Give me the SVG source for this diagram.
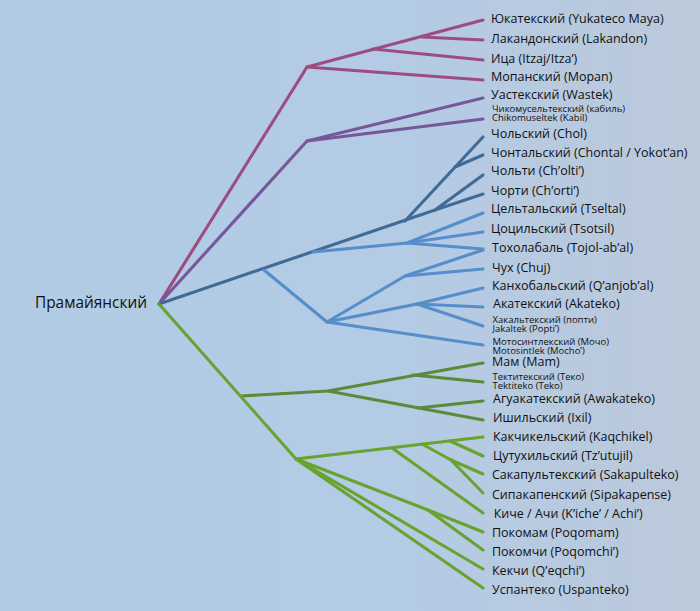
<svg xmlns="http://www.w3.org/2000/svg" width="700" height="611" viewBox="0 0 700 611">
<defs>
<linearGradient id="bg" x1="0" y1="0" x2="1" y2="0">
<stop offset="0" stop-color="#b1cbe6"/>
<stop offset="0.6" stop-color="#b4cbe4"/>
<stop offset="1" stop-color="#bcc9db"/>
</linearGradient>
<style>
.e{fill:none;stroke-width:3.1;stroke-linecap:round;stroke-linejoin:round}
.yu{stroke:#9c4c80}
.hu{stroke:#77579a}
.ch{stroke:#3f6b98}
.lb{stroke:#568dcb}
.mm{stroke:#5a8a3a}
.ki{stroke:#68a330}
text{font-family:"Open Sans","Noto Sans","DejaVu Sans",sans-serif;fill:#111}
.l{font-size:12.5px}
.s{font-size:9.5px}
.r{font-size:15.4px}
</style>
</defs>
<rect width="700" height="611" fill="url(#bg)"/>
<g id="connectors">
<g class="e yu">
<path d="M159,304 L307,67 L483,20"/>
<path d="M422,37 L483,40"/>
<path d="M373,49 L483,60"/>
<path d="M307,67 L483,80"/>
</g>
<g class="e hu">
<path d="M159,304 L307,141 L483,98"/>
<path d="M307,141 L483,119"/>
</g>
<g class="e ch">
<path d="M159,304 L435,210 L483,194"/>
<path d="M435,210 L483,175"/>
<path d="M405,221 L483,137"/>
<path d="M455,167 L483,155"/>
</g>
<g class="e lb">
<path d="M313,252 L407,243 L483,213"/>
<path d="M407,243 L483,232"/>
<path d="M407,243 L483,249"/>
<path d="M264,270 L327,322 L405,276 L483,250"/>
<path d="M405,276 L483,269"/>
<path d="M327,322 L417,304 L483,288"/>
<path d="M417,304 L483,307"/>
<path d="M417,304 L483,326"/>
<path d="M327,322 L483,345"/>
</g>
<g class="e mm">
<path d="M241,396 L328,391 L483,363"/>
<path d="M413,375 L483,382"/>
<path d="M328,391 L483,420"/>
<path d="M418,408 L483,401"/>
</g>
<g class="e ki">
<path d="M159,304 L296,459 L483,437"/>
<path d="M392,448 L483,513"/>
<path d="M422,444 L451,460 L483,474"/>
<path d="M451,460 L483,493"/>
<path d="M450,441 L483,456"/>
<path d="M296,459 L428,510 L483,532"/>
<path d="M428,510 L483,550"/>
<path d="M296,459 L483,569"/>
<path d="M296,459 L483,588"/>
</g>
</g>
<g id="root"><text class="r" x="35" y="308">Прамайянский</text></g>
<g id="leaves">
<g id="n-yukateco"><text class="l" x="491" y="22.7">Юкатекский (Yukateco Maya)</text></g>
<g id="n-lakandon"><text class="l" x="491" y="43.3">Лакандонский (Lakandon)</text></g>
<g id="n-itza"><text class="l" x="491" y="62.7">Ица (Itzaj/Itza’)</text></g>
<g id="n-mopan"><text class="l" x="491" y="81">Мопанский (Mopan)</text></g>
<g id="n-wastek"><text class="l" x="491" y="99.3">Уастекский (Wastek)</text></g>
<g id="n-chikomuseltek"><text class="s" x="492" y="112">Чикомусельтекский (кабиль)</text><text class="s" x="492" y="121">Chikomuseltek (Kabil)</text></g>
<g id="n-chol"><text class="l" x="491" y="137.7">Чольский (Chol)</text></g>
<g id="n-chontal"><text class="l" x="491" y="156.7">Чонтальский (Chontal / Yokot’an)</text></g>
<g id="n-cholti"><text class="l" x="491" y="175">Чольти (Ch’olti’)</text></g>
<g id="n-chorti"><text class="l" x="491" y="195">Чорти (Ch’orti’)</text></g>
<g id="n-tseltal"><text class="l" x="491" y="213.3">Цельтальский (Tseltal)</text></g>
<g id="n-tsotsil"><text class="l" x="491" y="232.7">Цоцильский (Tsotsil)</text></g>
<g id="n-tojolabal"><text class="l" x="492" y="251.7">Тохолабаль (Tojol-ab’al)</text></g>
<g id="n-chuj"><text class="l" x="492" y="271.7">Чух (Chuj)</text></g>
<g id="n-qanjobal"><text class="l" x="492" y="290">Канхобальский (Q’anjob’al)</text></g>
<g id="n-akateko"><text class="l" x="493" y="308.3">Акатекский (Akateko)</text></g>
<g id="n-jakaltek"><text class="s" x="492.5" y="322.5">Хакальтекский (попти)</text><text class="s" x="492.5" y="331.8">Jakaltek (Popti’)</text></g>
<g id="n-mocho"><text class="s" x="492.5" y="344.8">Мотосинтлекский (Мочо)</text><text class="s" x="492.5" y="353.6">Motosintlek (Mocho’)</text></g>
<g id="n-mam"><text class="l" x="492" y="365.7">Мам (Mam)</text></g>
<g id="n-tektiteko"><text class="s" x="492.5" y="379.8">Тектитекский (Теко)</text><text class="s" x="492.5" y="388.6">Tektiteko (Teko)</text></g>
<g id="n-awakateko"><text class="l" x="493" y="403.3">Агуакатекский (Awakateko)</text></g>
<g id="n-ixil"><text class="l" x="493" y="421.7">Ишильский (Ixil)</text></g>
<g id="n-kaqchikel"><text class="l" x="493" y="440.7">Какчикельский (Kaqchikel)</text></g>
<g id="n-tzutujil"><text class="l" x="493" y="460">Цутухильский (Tz’utujil)</text></g>
<g id="n-sakapulteko"><text class="l" x="492" y="479.3">Сакапультекский (Sakapulteko)</text></g>
<g id="n-sipakapense"><text class="l" x="492" y="499.3">Сипакапенский (Sipakapense)</text></g>
<g id="n-kiche"><text class="l" x="493.7" y="518.3">Киче / Ачи (K’iche’ / Achi’)</text></g>
<g id="n-poqomam"><text class="l" x="492" y="537.3">Покомам (Poqomam)</text></g>
<g id="n-poqomchi"><text class="l" x="492" y="556">Покомчи (Poqomchi’)</text></g>
<g id="n-qeqchi"><text class="l" x="492" y="575">Кекчи (Q’eqchi’)</text></g>
<g id="n-uspanteko"><text class="l" x="492" y="594">Успантеко (Uspanteko)</text></g>
</g>
</svg>
